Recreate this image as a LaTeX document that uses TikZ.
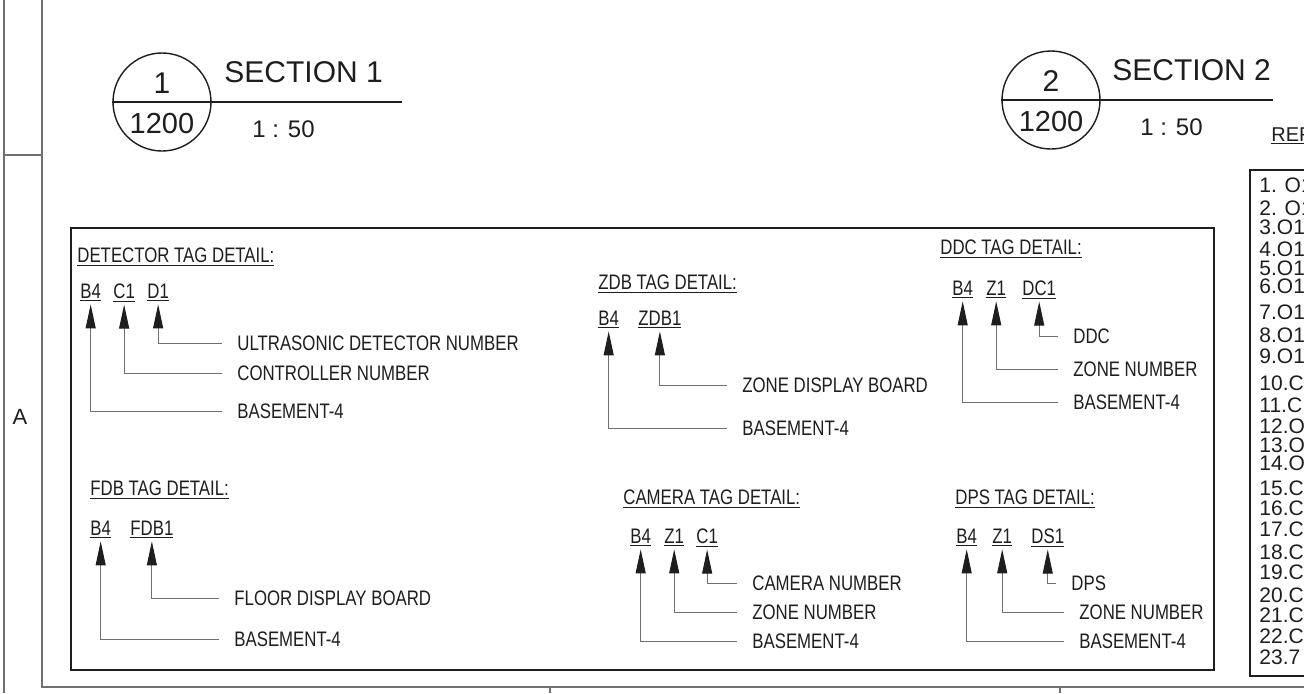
\documentclass[tikz,border=0pt]{standalone}
\usepackage{fontspec}
\setmainfont{Liberation Sans}
\newfontfamily\tagfont{Liberation Sans}[FakeStretch=0.8]
\usetikzlibrary{arrows.meta}
\definecolor{ink}{HTML}{1E1E1E}
\definecolor{pencil}{HTML}{707070}
\tikzset{
  frame line/.style={draw=pencil, line width=0.6pt},
  box line/.style={draw=ink, line width=1.4pt},
  sec circle/.style={circle, draw=ink, line width=0.7pt, minimum size=49pt, inner sep=0pt},
  sec text/.style={anchor=base west, inner sep=0pt},
  tag head/.style={anchor=base west, inner sep=0pt, font=\tagfont\fontsize{10.5}{12}\selectfont},
  tag code/.style={anchor=base west, inner sep=0pt, font=\tagfont\fontsize{10.5}{12}\selectfont},
  tag label/.style={anchor=west, inner xsep=7.5pt, inner ysep=0pt, font=\tagfont\fontsize{10.5}{12}\selectfont},
  leader/.style={draw=pencil, line width=0.5pt, shorten >=1pt,
    -{Triangle[length=12pt,width=5pt,fill=ink,color=ink]}},
  ref item/.style={anchor=base west, inner sep=0pt, font=\fontsize{10.5}{12}\selectfont},
}

\begin{document}
\begin{tikzpicture}[x=0.5pt, y=-0.5pt, every node/.style={text=ink}]
  \useasboundingbox (0,0) rectangle (1304,693);
  \clip (0,0) rectangle (1304,693);
  \fill[white] (0,0) rectangle (1304,693);

  % sheet frame
  \draw[frame line] (4,0) -- (4,693);
  \draw[frame line] (42,0) -- (42,687) -- (1304,687);
  \draw[frame line] (4,155) -- (42,155);
  \draw[frame line] (550,687) -- (550,693);
  \draw[frame line] (1060,687) -- (1060,693);
  \node[font=\fontsize{11}{13}\selectfont] (zone) at (20,417) {A};

  % section marks
  \node[sec circle] (s1) at (162,102) {};
  \draw[draw=ink, line width=0.6pt] (s1.west) -- (402,102);
  \node[anchor=base, font=\fontsize{15}{18}\selectfont] (s1num) at (162,93) {1};
  \node[anchor=base, font=\fontsize{14.5}{18}\selectfont] (s1sht) at (162,133) {1200};
  \node[sec text, font=\fontsize{15}{18}\selectfont] (s1ttl) at (224,82) {SECTION 1};
  \node[sec text, font=\fontsize{12}{14}\selectfont] (s1scl) at (252,137) {1 : 50};

  \node[sec circle] (s2) at (1051,100) {};
  \draw[draw=ink, line width=0.6pt] (s2.west) -- (1273,100);
  \node[anchor=base, font=\fontsize{15}{18}\selectfont] (s2num) at (1051,91) {2};
  \node[anchor=base, font=\fontsize{14.5}{18}\selectfont] (s2sht) at (1051,131) {1200};
  \node[sec text, font=\fontsize{15}{18}\selectfont] (s2ttl) at (1112,80) {SECTION 2};
  \node[sec text, font=\fontsize{12}{14}\selectfont] (s2scl) at (1140,135) {1 : 50};

  % reference list (cut by the sheet edge)
  \node[sec text, font=\fontsize{10}{12}\selectfont] (ref) at (1271,141) {\underline{REF}};
  \draw[draw=ink, line width=1.1pt] (1250,170) rectangle (1330,676);
  \foreach \n/\t/\yy in {1/{1. O1}/192, 2/{2. O1}/215, 3/{3.O1}/234, 4/{4.O1}/256,
      5/{5.O1}/275, 6/{6.O1}/293, 7/{7.O1}/319, 8/{8.O1}/342, 9/{9.O1}/363,
      10/{10.C}/390, 11/{11.C}/412, 12/{12.O}/433, 13/{13.O}/452, 14/{14.O}/470,
      15/{15.C}/495, 16/{16.C}/515, 17/{17.C}/536, 18/{18.C}/559, 19/{19.C}/579,
      20/{20.C}/602, 21/{21.C}/622, 22/{22.C}/643, 23/{23.7}/664}
    \node[ref item] (ref\n) at (1259,\yy) {\t};

  % tag detail panel
  \draw[box line] (71,228) rectangle (1214,670);

  % detector
  \node[tag head] (dth) at (77,262) {\underline{DETECTOR TAG DETAIL:}};
  \node[tag code] (dtb) at (80,298) {\underline{B4}};
  \node[tag code] (dtc) at (113,298) {\underline{C1}};
  \node[tag code] (dtd) at (147,298) {\underline{D1}};
  \node[tag label] (dtl1) at (222,343) {ULTRASONIC DETECTOR NUMBER};
  \node[tag label] (dtl2) at (222,373) {CONTROLLER NUMBER};
  \node[tag label] (dtl3) at (222,411) {BASEMENT-4};
  \draw[leader] (dtl1.west) -| (dtd.south);
  \draw[leader] (dtl2.west) -| (dtc.south);
  \draw[leader] (dtl3.west) -| (dtb.south);

  % zdb
  \node[tag head] (zbh) at (598,289) {\underline{ZDB TAG DETAIL:}};
  \node[tag code] (zbb) at (598,325) {\underline{B4}};
  \node[tag code] (zbz) at (638,325) {\underline{ZDB1}};
  \node[tag label] (zbl1) at (727,385) {ZONE DISPLAY BOARD};
  \node[tag label] (zbl2) at (727,428) {BASEMENT-4};
  \draw[leader] (zbl1.west) -| (zbz.south);
  \draw[leader] (zbl2.west) -| (zbb.south);

  % ddc
  \node[tag head] (dch) at (940,254) {\underline{DDC TAG DETAIL:}};
  \node[tag code] (dcb) at (952,295) {\underline{B4}};
  \node[tag code] (dcz) at (986,295) {\underline{Z1}};
  \node[tag code] (dcd) at (1022,295) {\underline{DC1}};
  \node[tag label] (dcl1) at (1058,336) {DDC};
  \node[tag label] (dcl2) at (1058,369) {ZONE NUMBER};
  \node[tag label] (dcl3) at (1058,402) {BASEMENT-4};
  \draw[leader] (dcl1.west) -| (dcd.south);
  \draw[leader] (dcl2.west) -| (dcz.south);
  \draw[leader] (dcl3.west) -| (dcb.south);

  % fdb
  \node[tag head] (fbh) at (90,495) {\underline{FDB TAG DETAIL:}};
  \node[tag code] (fbb) at (90,535) {\underline{B4}};
  \node[tag code] (fbf) at (130,535) {\underline{FDB1}};
  \node[tag label] (fbl1) at (219,598) {FLOOR DISPLAY BOARD};
  \node[tag label] (fbl2) at (219,639) {BASEMENT-4};
  \draw[leader] (fbl1.west) -| (fbf.south);
  \draw[leader] (fbl2.west) -| (fbb.south);

  % camera
  \node[tag head] (cmh) at (623,504) {\underline{CAMERA TAG DETAIL:}};
  \node[tag code] (cmb) at (630,543) {\underline{B4}};
  \node[tag code] (cmz) at (664,543) {\underline{Z1}};
  \node[tag code] (cmc) at (696,543) {\underline{C1}};
  \node[tag label] (cml1) at (737,583) {CAMERA NUMBER};
  \node[tag label] (cml2) at (737,612) {ZONE NUMBER};
  \node[tag label] (cml3) at (737,641) {BASEMENT-4};
  \draw[leader] (cml1.west) -| (cmc.south);
  \draw[leader] (cml2.west) -| (cmz.south);
  \draw[leader] (cml3.west) -| (cmb.south);

  % dps
  \node[tag head] (dph) at (955,504) {\underline{DPS TAG DETAIL:}};
  \node[tag code] (dpb) at (956,543) {\underline{B4}};
  \node[tag code] (dpz) at (992,543) {\underline{Z1}};
  \node[tag code] (dpd) at (1031,543) {\underline{DS1}};
  \node[tag label] (dpl1) at (1056,583) {DPS};
  \node[tag label] (dpl2) at (1064,612) {ZONE NUMBER};
  \node[tag label] (dpl3) at (1064,641) {BASEMENT-4};
  \draw[leader] (dpl1.west) -| (dpd.south);
  \draw[leader] (dpl2.west) -| (dpz.south);
  \draw[leader] (dpl3.west) -| (dpb.south);
\end{tikzpicture}
\end{document}
